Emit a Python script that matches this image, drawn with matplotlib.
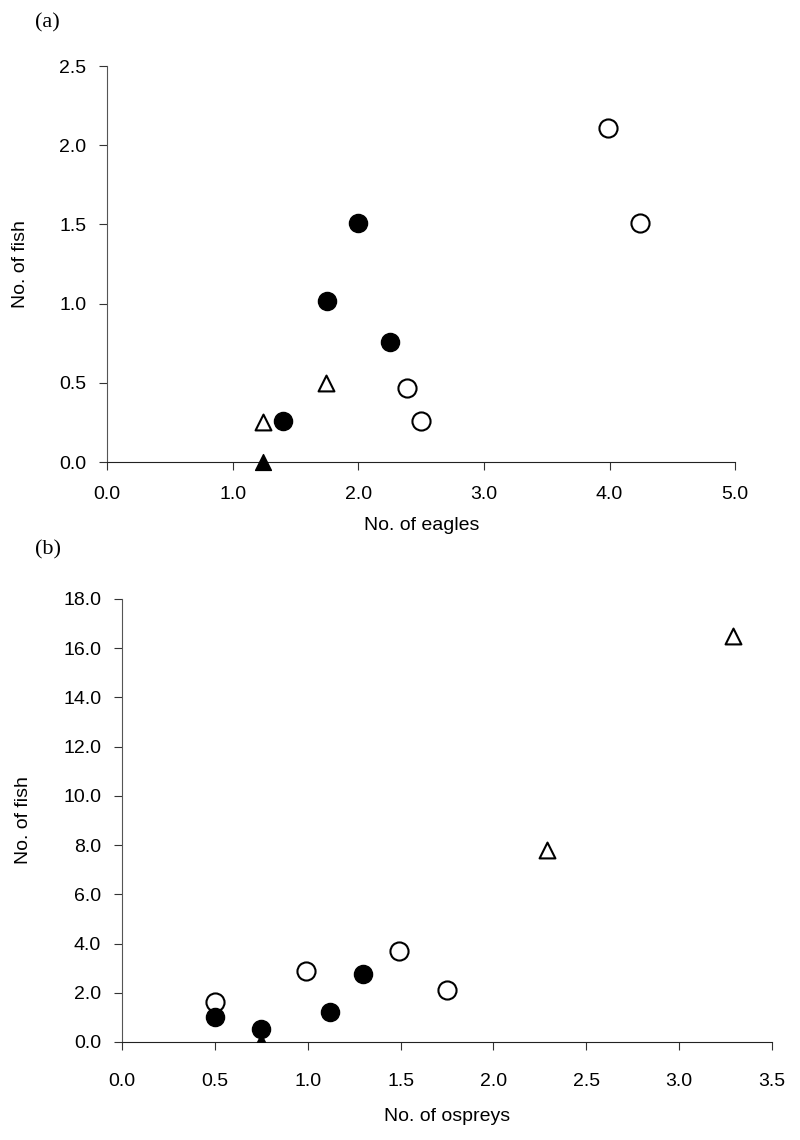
import matplotlib
matplotlib.use("Agg")
import matplotlib.pyplot as plt
from matplotlib.ticker import FormatStrFormatter

plt.rcParams['font.family'] = ['Liberation Sans', 'DejaVu Sans']

# panel (a): eagles
a_filled_circle_x = [2.0, 1.75, 2.25, 1.4]
a_filled_circle_y = [1.51, 1.02, 0.76, 0.26]
a_open_circle_x = [3.99, 4.24, 2.39, 2.5]
a_open_circle_y = [2.11, 1.51, 0.47, 0.26]
a_open_tri_x = [1.24, 1.74]
a_open_tri_y = [0.25, 0.5]
a_filled_tri_x = [1.24]
a_filled_tri_y = [0.0]

# panel (b): ospreys
b_filled_circle_x = [0.5, 0.75, 1.12, 1.3]
b_filled_circle_y = [1.0, 0.52, 1.2, 2.78]
b_open_circle_x = [0.5, 0.99, 1.49, 1.75]
b_open_circle_y = [1.62, 2.9, 3.7, 2.12]
b_open_tri_x = [2.29, 3.29]
b_open_tri_y = [7.8, 16.5]
b_filled_tri_x = [0.75]
b_filled_tri_y = [0.0]

fig = plt.figure(figsize=(8, 11.4), dpi=100)
ax1 = fig.add_axes([0.134, 0.5947, 0.785, 0.3473])
ax2 = fig.add_axes([0.1525, 0.086, 0.8125, 0.3886])

ms_c = 170
ms_t = 130


def style(ax, xpad):
    for s in ['top', 'right']:
        ax.spines[s].set_visible(False)
    ax.spines['left'].set_color('#555555')
    ax.spines['bottom'].set_color('#222222')
    ax.tick_params(direction='out', length=6, labelsize=14, color='#333333')
    ax.tick_params(axis='y', pad=9)
    ax.tick_params(axis='x', pad=xpad)
    ax.xaxis.set_major_formatter(FormatStrFormatter('%.1f'))
    ax.yaxis.set_major_formatter(FormatStrFormatter('%.1f'))


def draw(ax, fcx, fcy, ocx, ocy, otx, oty, ftx, fty, clip):
    ax.scatter(ocx, ocy, s=ms_c, facecolors='white', edgecolors='black',
               linewidths=1.5, zorder=3)
    ax.scatter(fcx, fcy, s=ms_c, color='black', zorder=4)
    ax.scatter(otx, oty, s=ms_t, marker='^', facecolors='white',
               edgecolors='black', linewidths=1.5, zorder=3)
    ax.scatter(ftx, fty, s=ms_t, marker='^', color='black', zorder=4,
               clip_on=clip)


draw(ax1, a_filled_circle_x, a_filled_circle_y, a_open_circle_x,
     a_open_circle_y, a_open_tri_x, a_open_tri_y, a_filled_tri_x,
     a_filled_tri_y, False)
ax1.set_xlim(0, 5)
ax1.set_ylim(0, 2.5)
ax1.set_xticks([0, 1, 2, 3, 4, 5])
ax1.set_yticks([0, 0.5, 1.0, 1.5, 2.0, 2.5])
style(ax1, 11)
ax1.set_xlabel('No. of eagles', fontsize=14, labelpad=10)
ax1.set_ylabel('No. of fish', fontsize=14, labelpad=22)

draw(ax2, b_filled_circle_x, b_filled_circle_y, b_open_circle_x,
     b_open_circle_y, b_open_tri_x, b_open_tri_y, b_filled_tri_x,
     b_filled_tri_y, True)
ax2.set_xlim(0, 3.5)
ax2.set_ylim(0, 18)
ax2.set_xticks([0, 0.5, 1.0, 1.5, 2.0, 2.5, 3.0, 3.5])
ax2.set_yticks(range(0, 19, 2))
style(ax2, 16)
ax2.set_xlabel('No. of ospreys', fontsize=14, labelpad=13)
ax2.set_ylabel('No. of fish', fontsize=14, labelpad=22)

fig.text(0.044, 0.988, '(a)', fontsize=16, family='Liberation Serif',
         va='top')
fig.text(0.044, 0.526, '(b)', fontsize=16, family='Liberation Serif',
         va='top')

fig.savefig('out.png', dpi=100)
